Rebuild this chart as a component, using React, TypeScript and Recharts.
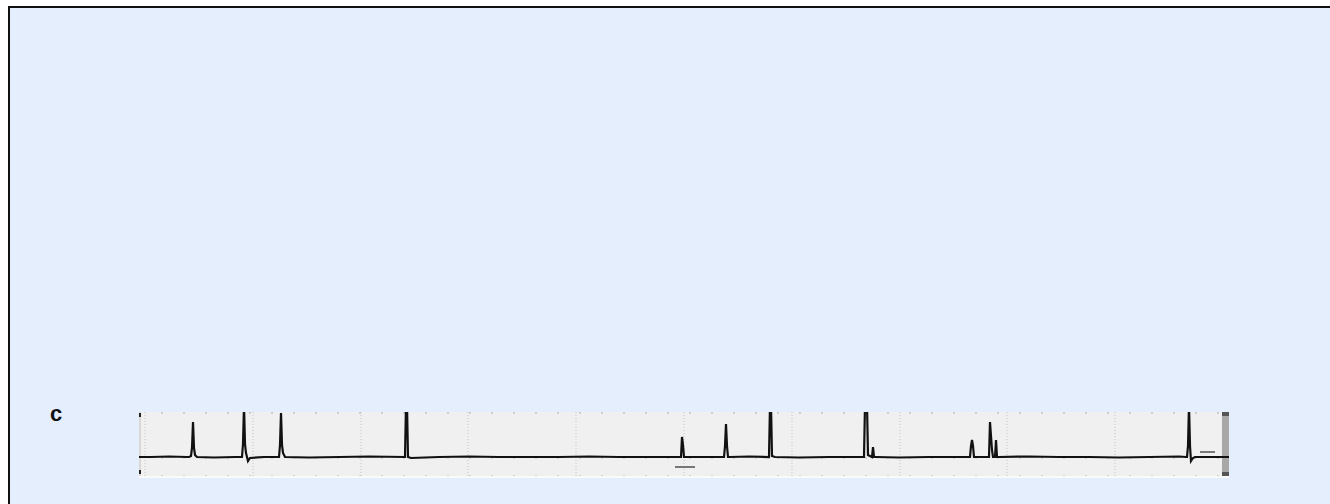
import React from 'react';
import { LineChart, Line, XAxis, YAxis, CartesianGrid, ReferenceArea, ReferenceLine } from 'recharts';

// trace position (0..1090) and signal level (baseline ~18)
const tracePos = [
  0, 12, 30, 48, 50, 52, 53, 54, 55, 56, 58, 75, 96, 103, 104, 105, 106, 107, 109, 111, 125,
  140, 141, 142, 143, 144, 146, 170, 200, 230, 266, 267, 268, 269, 272, 300, 330, 360, 390,
  420, 450, 480, 510, 540, 541, 542, 543, 544, 545, 547, 565, 585, 586, 587, 588, 589, 591, 610,
  630, 631, 632, 633, 636, 660, 690, 720, 725, 726, 727, 728, 729, 733, 734, 735, 737, 760,
  790, 820, 831, 832, 833, 834, 835, 837, 849, 850, 851, 852, 853, 854, 856, 857, 858, 860, 890,
  920, 950, 980, 1010, 1040, 1047, 1048, 1049, 1050, 1051, 1052, 1054, 1056, 1060, 1075, 1090,
];
const signal = [
  18, 18, 18.5, 18, 18, 19, 27, 53, 27, 20, 18, 17.5, 18, 18, 31, 70, 31, 22, 14, 17, 18,
  18, 30, 62, 30, 22, 18, 17.5, 18, 18.5, 18, 70, 70, 18, 17, 18, 18.5, 18, 18,
  18, 18.5, 18, 18, 18, 18, 18, 38, 30, 18, 18, 18, 18, 29, 51, 29, 18, 18, 18.5,
  18, 70, 70, 19, 18, 17.5, 18, 18, 18, 70, 70, 70, 20, 18, 28, 18, 18, 17.5,
  18, 18, 18, 29, 35, 29, 18, 18, 18, 18, 53, 39, 25, 18, 18, 35, 18, 18, 18.5,
  18, 18, 17.5, 18, 18.5, 18, 18, 29, 70, 29, 14, 17, 18, 18, 18, 18, 18,
];
const gridX = [6, 114, 222, 329, 437, 545, 653, 761, 868, 976, 1084];
const gridY = [2, 17, 32, 47, 62];

const data = tracePos.map((x, i) => ({ x, v: signal[i] }));

export default function App() {
  return (
    <div style={{ position: 'fixed', inset: 0, overflow: 'hidden' }}>
      <div
        style={{
          position: 'absolute',
          left: 8,
          top: 6,
          width: 1400,
          height: 600,
          background: '#e5eefd',
          borderTop: '2px solid #111',
          borderLeft: '2px solid #111',
        }}
      />
      <div
        style={{
          position: 'absolute',
          left: 50,
          top: 403,
          fontFamily: '"Liberation Sans", Arial, sans-serif',
          fontWeight: 700,
          fontSize: 22,
          lineHeight: '22px',
          color: '#111',
        }}
      >
        c
      </div>
      <div
        style={{
          position: 'absolute',
          left: 139,
          top: 412,
          width: 1090,
          height: 64,
          background: '#f0f0f0',
          borderBottom: '2px solid #fafafa',
        }}
      >
        <LineChart width={1090} height={64} data={data} margin={{ top: 0, right: 0, bottom: 0, left: 0 }}>
          <XAxis dataKey="x" type="number" domain={[0, 1090]} ticks={gridX} hide />
          <YAxis type="number" domain={[-1, 63]} ticks={gridY} allowDataOverflow hide />
          <CartesianGrid horizontal={false} stroke="#c4c4c4" strokeDasharray="1 2" />
          <CartesianGrid vertical={false} stroke="#b8b8b8" strokeDasharray="2 20" />
          <ReferenceArea x1={0} x2={2} y1={-1} y2={63} fill="#d8d8d8" fillOpacity={1} stroke="none" />
          <ReferenceArea x1={0} x2={2} y1={58} y2={62} fill="#222" fillOpacity={1} stroke="none" />
          <ReferenceArea x1={0} x2={2} y1={1} y2={5} fill="#222" fillOpacity={1} stroke="none" />
          <ReferenceArea x1={1083} x2={1090} y1={-1} y2={63} fill="#a8a8a8" fillOpacity={1} stroke="none" />
          <ReferenceArea x1={1083} x2={1090} y1={59} y2={63} fill="#555" fillOpacity={1} stroke="none" />
          <ReferenceArea x1={1083} x2={1090} y1={-1} y2={3} fill="#555" fillOpacity={1} stroke="none" />
          <ReferenceLine segment={[{ x: 536, y: 8 }, { x: 556, y: 8 }]} stroke="#777" strokeWidth={2} />
          <ReferenceLine segment={[{ x: 1061, y: 23 }, { x: 1076, y: 23 }]} stroke="#555" strokeWidth={1.5} />
          <Line
            type="linear"
            dataKey="v"
            stroke="#111"
            strokeWidth={2.2}
            dot={false}
            isAnimationActive={false}
          />
        </LineChart>
      </div>
    </div>
  );
}
